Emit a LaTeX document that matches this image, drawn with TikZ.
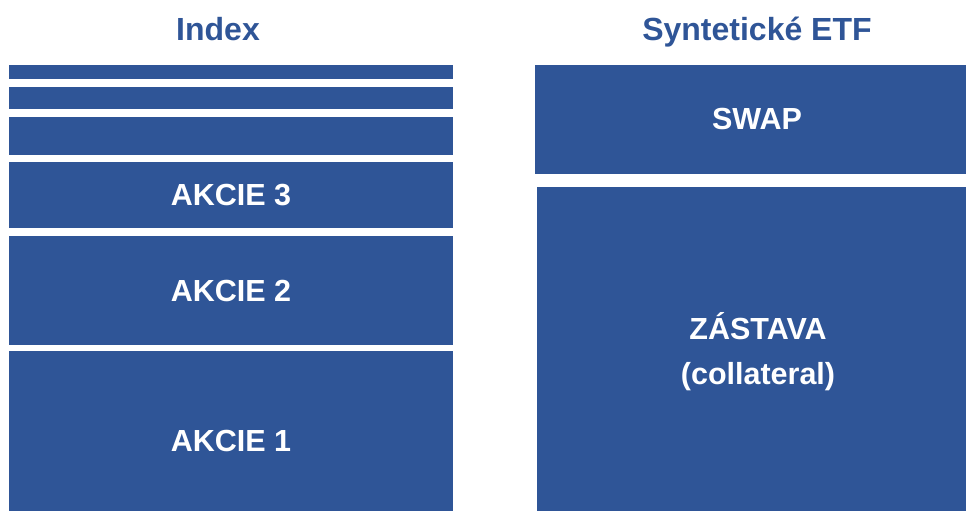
\documentclass[tikz,border=0pt]{standalone}
\usepackage{fontspec}
\setmainfont{Liberation Sans}
\definecolor{etfblue}{HTML}{2F5597}
\begin{document}
\begin{tikzpicture}[x=1pt,y=-1pt,
  bar/.style={rectangle, fill=etfblue, draw=none, inner sep=0pt, outer sep=0pt,
    text=white, font=\fontsize{30.5}{45}\selectfont\bfseries, align=center},
  heading/.style={text=etfblue, font=\fontsize{32}{38}\selectfont\bfseries,
    inner sep=0pt, anchor=base}]
  \useasboundingbox (0,0) rectangle (966,511);
  \clip (0,0) rectangle (966,511);
  % column titles
  \node[heading] (tIndex) at (218,40.5) {Index};
  \node[heading] (tEtf) at (757,40.5) {Syntetické ETF};
  % index stack
  \node[bar, minimum width=444, minimum height=14] (s1) at (231,72) {};
  \node[bar, minimum width=444, minimum height=22] (s2) at (231,98) {};
  \node[bar, minimum width=444, minimum height=38] (s3) at (231,136) {};
  \node[bar, minimum width=444, minimum height=66] (a3) at (231,195) {AKCIE 3};
  \node[bar, minimum width=444, minimum height=109] (a2) at (231,290.5) {AKCIE 2};
  \node[bar, minimum width=444, minimum height=180] (a1) at (231,441) {AKCIE 1};
  % synthetic ETF stack
  \node[bar, minimum width=444, minimum height=109] (swap) at (757,119.5) {SWAP};
  \node[bar, minimum width=442, minimum height=330] (zast) at (758,352)
    {ZÁSTAVA\\(collateral)};
\end{tikzpicture}
\end{document}
